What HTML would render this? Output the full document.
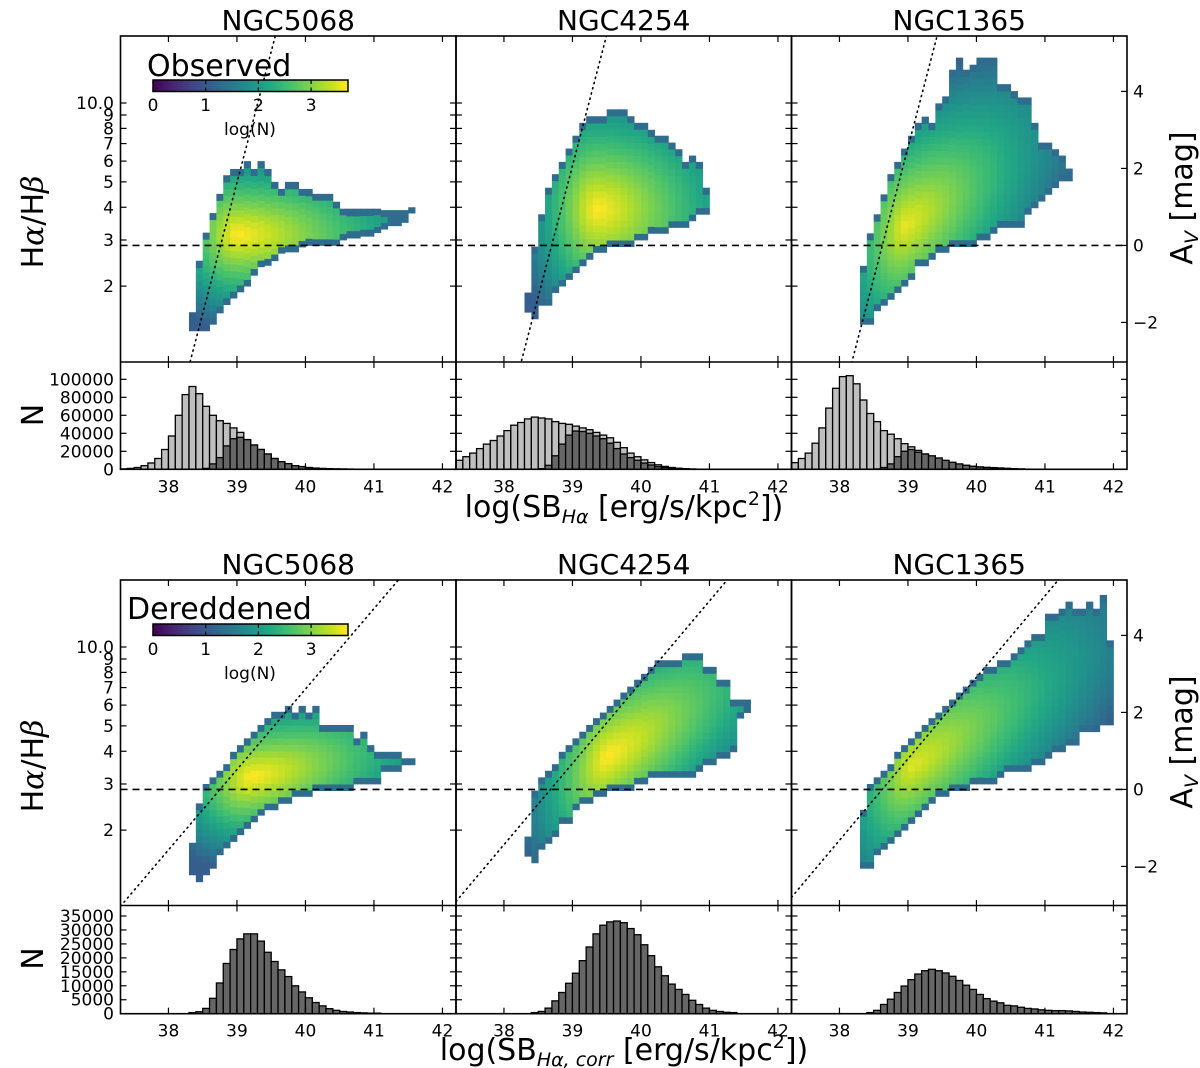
<!DOCTYPE html>
<html><head><meta charset="utf-8">
<style>
html,body{margin:0;padding:0;background:#fff;}
svg{display:block;font-family:"DejaVu Sans","Liberation Sans",sans-serif;}
</style></head>
<body>
<svg id="fig" width="1200" height="1068" viewBox="0 0 1200 1068" xmlns="http://www.w3.org/2000/svg"></svg>
<script>
// ---------------- DATA ----------------
const galaxies = ["NGC5068","NGC4254","NGC1365"];
const xTicks = [38,39,40,41,42];
const ratioTicks = [2,3,4,5,6,7,8,9,10];
const ratioTickLabels = ["2","3","4","5","6","7","8","9","10.0"];
const avTicks = [-2,0,2,4];
const avTickLabels = ["\u22122","0","2","4"];
const caseBRatio = 2.86;
const histTopTicks = [0,20000,40000,60000,80000,100000];
const histBotTicks = [0,5000,10000,15000,20000,25000,30000,35000];
const cbarTicks = [0,1,2,3];

// heatmap column bins (width 0.1 dex), start at 38.3
const binStart = 38.3;
const obs5068Hi = [1.59,2.5,3.2,3.8,4.5,5.3,5.6,5.6,6,5.6,6,5.6,5,4.7,5,5,4.7,4.7,4.5,4.5,4.5,4.2,3.95,3.95,3.95,3.95,3.95,3.95,3.9,3.9,3.9,3.9,4.0];
const obs5068Lo = [1.35,1.35,1.35,1.43,1.58,1.7,1.8,1.9,2.0,2.2,2.37,2.4,2.5,2.67,2.7,2.7,2.82,2.86,2.86,2.86,2.86,2.86,3.0,3.05,3.05,3.1,3.1,3.2,3.3,3.4,3.4,3.5,3.8];
const obs4254Hi = [1.89,2.83,3.76,4.75,5.35,5.96,6.7,7.5,8.4,8.9,8.9,8.9,9.46,9.46,9.46,8.9,8.4,8.4,7.9,7.5,7.5,7.06,6.66,5.96,6.3,5.96,4.75];
const obs4254Lo = [1.59,1.5,1.69,1.69,1.89,2.0,2.12,2.25,2.39,2.53,2.69,2.69,2.83,2.83,2.83,2.83,3.0,3.0,3.18,3.18,3.18,3.35,3.35,3.35,3.55,3.76,3.76];
const obs1365Hi = [2.39,3.18,3.76,4.48,5.35,5.96,6.7,7.5,8.4,8.87,8.4,9.97,10.6,13.4,14.9,13.4,14.0,14.9,14.9,14.9,11.8,11.8,11.1,10.5,10.5,8.4,7.06,7.06,6.66,6.3,5.62];
const obs1365Lo = [1.43,1.43,1.61,1.69,1.78,1.89,2.0,2.12,2.39,2.39,2.53,2.69,2.69,2.83,2.83,2.83,2.83,3.0,3.0,3.18,3.35,3.35,3.35,3.35,3.76,3.98,4.22,4.48,4.75,5.04,5.04];
const cor5068Hi = [1.79,2.53,3.0,3.18,3.37,3.57,3.98,4.22,4.48,4.75,5.04,5.35,5.66,5.66,5.96,5.62,5.96,5.62,5.96,5.04,5.04,5.04,5.04,5.04,4.48,4.75,4.22,3.98,3.98,3.98,3.98,3.76,3.76,3.55];
const cor5068Lo = [1.35,1.27,1.35,1.43,1.61,1.71,1.81,1.92,2.03,2.15,2.28,2.39,2.39,2.53,2.53,2.69,2.69,2.69,2.83,2.83,2.83,2.83,2.83,2.83,3.0,3.0,3.0,3.0,3.35,3.35,3.35,3.55,3.55,3.76];
const cor4254Hi = [1.89,2.83,3.18,3.37,3.57,3.98,4.22,4.48,4.75,5.04,5.35,5.62,5.96,6.3,6.7,7.06,7.5,7.9,8.4,8.9,8.9,8.9,8.9,9.46,9.46,9.46,8.4,8.4,7.5,7.5,6.3,6.3,6.3];
const cor4254Lo = [1.59,1.5,1.69,1.78,1.89,2.12,2.12,2.39,2.53,2.53,2.69,2.69,2.83,2.83,2.83,2.83,3.0,3.0,3.18,3.18,3.18,3.18,3.18,3.18,3.18,3.35,3.55,3.55,3.76,3.76,3.98,5.35,5.62];
const cor1365Hi = [2.39,3.0,3.18,3.37,3.57,3.98,4.22,4.48,4.75,5.04,5.35,5.62,5.96,6.3,6.7,7.06,7.5,7.9,8.4,8.4,8.9,8.9,9.46,9.97,10.6,11.2,11.2,13.4,13.4,14.0,14.9,14.0,14.0,14.9,14.0,15.8,10.6];
const cor1365Lo = [1.43,1.43,1.61,1.69,1.78,1.89,2.0,2.12,2.25,2.39,2.53,2.69,2.69,2.83,2.83,2.83,3.0,3.0,3.0,3.0,3.18,3.35,3.35,3.35,3.35,3.55,3.55,3.76,3.98,3.98,4.22,4.22,4.75,4.75,4.75,5.04,5.04];
// density peak (logSB, ratio) per panel
const peakSB = [39.0,39.35,38.95,39.2,39.5,39.05];
const peakRatio = [3.15,3.93,3.4,3.2,3.81,3.5];

// dotted surface-brightness limit lines: log(ratio) = slope*(x - x0)
const limX0 = [38.304,38.24,38.17,37.266,37.208,37.157];
const limSlope = [1.0,1.0,1.0,0.307,0.31,0.311];

// histograms (counts in thousands), bins 0.1 dex
const obsAllStart = [37.3,37.3,37.3];
const obsAll5068 = [0.5,1,2,4,7,12,22,37,60,83,92,84,70,60,54,51,46,41,33,27,22,17,12,8.5,6.3,4,3,2,1.4,1,0.7,0.5,0.4,0.3];
const obsAll4254 = [10,14,18,23,28,32,37,43,49,52,56,58,57,56,53,51,50,48,46,44,41,38,35,30,24,18,14,10.5,7.5,5,3.2,2,1.2,0.7,0.4];
const obsAll1365 = [7.4,12,18,29,46,68,90,103,104,95,77,62,53,43,39,34,28.5,25,21,17,14,11,8.5,7,5.5,4.4,3.3,2.6,2.2,1.9,1.5,1.1,0.7,0.4];
const obsDetStart = [38.5,38.5,38.5];
const obsDet5068 = [1,6,13,26,34,35.5,33,27,22,17,12,8.5,6.3,4,3,1.8,1.1,0.6,0.4,0.3,0.2];
const obsDet4254 = [0.7,4.4,15,28,38,42.5,42,40,37,34,29,23,17,13,10,7,4.8,3,1.9,1.1,0.7,0.4];
const obsDet1365 = [0.4,2,6,14,20,22,19,17,15,12.6,10,7.8,6,4.4,3.3,2.6,1.9,1.5,1.1,0.7,0.4,0.3,0.2];
const corStart = [38.3,38.4,38.4];
const cor5068 = [0.4,0.7,1.9,5.5,11,18,23,26.8,28.6,28.6,26,22,18.7,15.7,13.3,10,7.8,5.7,4,2.8,1.8,1.2,0.8,0.6,0.4,0.3,0.2,0.2];
const cor4254 = [0.4,0.8,2,4.6,7.6,10.9,14.5,19,23.9,28.6,31.7,32.9,33.2,32.6,30.5,28.3,24.7,20.8,16.8,13.6,10.6,8.7,6.9,4.8,3.3,2,1.2,0.8,0.5,0.4];
const cor1365 = [0.4,1.2,3.3,5.2,7.6,9.9,12.2,14.2,15.4,15.9,15.4,14.6,13.4,11.9,10.2,8.7,6.9,5.4,4.5,3.9,3,2.8,2.3,1.9,1.7,1.4,1.2,1.1,1.1,1,0.8,0.6,0.5,0.4,0.3];

// ---------------- LAYOUT ----------------
const NS = "http://www.w3.org/2000/svg";
const svg = document.getElementById("fig");
const colLeft = [120.5,456,791.5];
const colW = 335.5;
const xMin = 37.3, pxPerDex = 68.5;
const groupTop = [36,580];
const heatH = 326;
const histTop = [362,905.5];
const histBot = [469.3,1013.7];
const histScale = [0.0009, 97.7/35000];
const logTop = 1.2557, pxPerDecade = 262;

function X(v,c){ return colLeft[c] + (v - xMin)*pxPerDex; }
function Y(r,g){ return groupTop[g] + (logTop - Math.log10(r))*pxPerDecade; }
function YL(lr,g){ return groupTop[g] + (logTop - lr)*pxPerDecade; }
function YH(n,g){ return histBot[g] - n*histScale[g]; }
function YAV(a,g){ return Y(caseBRatio,g) - a*38.5; }

function mk(tag, attrs, parent){
  const e = document.createElementNS(NS, tag);
  for (const k in attrs) e.setAttribute(k, attrs[k]);
  (parent||svg).appendChild(e);
  return e;
}
function txt(str, x, y, size, anchor, parent){
  const t = mk("text", {x:x, y:y, "font-size":size, "text-anchor":anchor||"middle", fill:"#000"}, parent);
  t.textContent = str;
  return t;
}

const vir = ["#440154","#482475","#414487","#355f8d","#2a788e","#21918c","#22a884","#44bf70","#7ad151","#bddf26","#fde725"];
function hex2rgb(h){ return [parseInt(h.substr(1,2),16),parseInt(h.substr(3,2),16),parseInt(h.substr(5,2),16)]; }
function viridis(t){
  t = Math.max(0, Math.min(1, t));
  const p = t*10, i = Math.min(9, Math.floor(p)), f = p - i;
  const a = hex2rgb(vir[i]), b = hex2rgb(vir[i+1]);
  return "rgb(" + a.map((v,k)=>Math.round(v + (b[k]-v)*f)).join(",") + ")";
}

// clip paths
const defs = mk("defs", {});
for (let g=0; g<2; g++) for (let c=0; c<3; c++){
  const cp = mk("clipPath", {id:"clip"+g+c}, defs);
  mk("rect", {x:colLeft[c], y:groupTop[g], width:colW, height:heatH}, cp);
}

const hiArr = [obs5068Hi,obs4254Hi,obs1365Hi,cor5068Hi,cor4254Hi,cor1365Hi];
const loArr = [obs5068Lo,obs4254Lo,obs1365Lo,cor5068Lo,cor4254Lo,cor1365Lo];
const sxR = [1.3,1.0,1.1,1.3,1.3,1.5], sxL = [0.45,0.45,0.45,0.5,0.5,0.5];
const sy = [0.14,0.2,0.22,0.13,0.18,0.2];
const tilt = [0,0,0.15,0.05,0.15,0.16];
const vmax = [3.75,3.75,3.6,3.75,3.75,3.55];
const cbarMax = 3.7;

// ---------------- HEATMAPS ----------------
for (let g=0; g<2; g++){
  for (let c=0; c<3; c++){
    const p = g*3 + c;
    const grp = mk("g", {"clip-path":"url(#clip"+g+c+")"});
    
    
    const hi = hiArr[p], lo = loArr[p];
    for (let i=0; i<hi.length; i++){
      const x0 = binStart + i*0.1;
      const l0 = Math.log10(lo[i]), l1 = Math.log10(hi[i]);
      const n = Math.max(1, Math.round((l1-l0)/0.0255));
      const dh = (l1-l0)/n;
      for (let j=0; j<n; j++){
        const la = l0 + j*dh, lb = la + dh;
        const dx = (x0 + 0.05) - peakSB[p];
        const dy = (la + dh/2) - Math.log10(peakRatio[p]) - tilt[p]*dx;
        const sx = dx > 0 ? sxR[p] : sxL[p];
        let v = vmax[p] - 1.0*Math.sqrt((dx/sx)*(dx/sx) + (dy/sy[p])*(dy/sy[p]));
        v = Math.max(1.1, v);
        if (j===0 || j===n-1) v = Math.min(v, 1.3);
        const r = mk("rect", {x:X(x0,c).toFixed(2), y:YL(lb,g).toFixed(2),
          width:(0.1*pxPerDex+0.4).toFixed(2), height:(dh*pxPerDecade+0.4).toFixed(2),
          fill:viridis(v/cbarMax)}, grp);
        
        
      }
    }
    const yb = Y(caseBRatio,g);
    const dl = mk("line", {x1:colLeft[c], x2:colLeft[c]+colW, y1:yb, y2:yb, stroke:"#000", "stroke-width":1.6, "stroke-dasharray":"7,5"}, grp);
    
    
    const xa = xMin, xb = 42.2;
    const dt = mk("line", {x1:X(xa,c), y1:YL(limSlope[p]*(xa-limX0[p]),g), x2:X(xb,c), y2:YL(limSlope[p]*(xb-limX0[p]),g),
      stroke:"#000", "stroke-width":1.6, "stroke-dasharray":"1.2,4.2", "stroke-linecap":"round"}, grp);
    
    
  }
}

// ---------------- HISTOGRAMS ----------------
const allArr = [obsAll5068,obsAll4254,obsAll1365];
const detArr = [obsDet5068,obsDet4254,obsDet1365];
const corArr = [cor5068,cor4254,cor1365];
function bars(vals, start, c, g, fill, name){
  const grp = mk("g", {});
  
  
  for (let i=0; i<vals.length; i++){
    const x0 = start + i*0.1;
    if (x0 >= 42.2) break;
    const yt = YH(vals[i]*1000, g);
    const b = mk("rect", {x:X(x0,c).toFixed(2), y:yt.toFixed(2), width:(0.1*pxPerDex).toFixed(2),
      height:Math.max(0, histBot[g]-yt).toFixed(2), fill:fill, stroke:"#000", "stroke-width":1.3}, grp);
    
    
  }
}
for (let c=0; c<3; c++){
  bars(allArr[c], obsAllStart[c], c, 0, "#bfbfbf", "hist-all-" + galaxies[c].toLowerCase());
  bars(detArr[c], obsDetStart[c], c, 0, "#666666", "hist-detected-" + galaxies[c].toLowerCase());
  bars(corArr[c], corStart[c], c, 1, "#666666", "hist-dereddened-" + galaxies[c].toLowerCase());
}

// ---------------- FRAMES, TICKS ----------------
function tick(x1,y1,x2,y2){ mk("line",{x1:x1,y1:y1,x2:x2,y2:y2,stroke:"#000","stroke-width":1.2}); }
for (let g=0; g<2; g++){
  for (let c=0; c<3; c++){
    const L = colLeft[c], R = L + colW, T = groupTop[g], B = T + heatH;
    xTicks.forEach(v=>{
      const x = X(v,c);
      tick(x,T,x,T+6); tick(x,B,x,B-6);
      tick(x,histTop[g],x,histTop[g]+6); tick(x,histBot[g],x,histBot[g]-6);
    });
    ratioTicks.forEach(r=>{
      const y = Y(r,g);
      tick(L,y,L+6,y);
      if (c<2) tick(R,y,R-6,y);
    });
    if (c===2) avTicks.forEach(a=>{ const y=YAV(a,g); tick(R,y,R-6,y); });
    const ht = g===0 ? histTopTicks : histBotTicks;
    ht.forEach(n=>{ const y=YH(n,g); tick(L,y,L+6,y); tick(R,y,R-6,y); });
    const fr = mk("rect",{x:L,y:T,width:colW,height:histBot[g]-T,fill:"none",stroke:"#000","stroke-width":1.6});
    
    
    mk("line",{x1:L,x2:R,y1:histTop[g],y2:histTop[g],stroke:"#000","stroke-width":1.6});
    const tt = txt(galaxies[c], L+colW/2, g===0?30:574, 28);
    
    
    xTicks.forEach(v=>{
      const lt = txt(String(v), X(v,c), histBot[g]+23, 17);
      
      
    });
  }
  ratioTicks.forEach((r,i)=>{
    const lt = txt(ratioTickLabels[i], 114, Y(r,g)+6, 17, "end");
    
    
  });
  const ht = g===0 ? histTopTicks : histBotTicks;
  ht.forEach(n=>{
    const lt = txt(String(n), 114, YH(n,g)+6, 17, "end");
    
    
  });
  avTicks.forEach((a,i)=>{
    const lt = txt(avTickLabels[i], 1133, YAV(a,g)+6, 17, "start");
    
    
  });

  const yc = groupTop[g] + 186;
  const yl = mk("text",{x:0,y:0,"font-size":30,"text-anchor":"middle",transform:"translate(43,"+yc+") rotate(-90)"});
  
  
  yl.innerHTML = 'H<tspan font-style="italic" font-family="DejaVu Serif, serif">α</tspan>/H<tspan font-style="italic" font-family="DejaVu Serif, serif">β</tspan>';
  const nl = mk("text",{x:0,y:0,"font-size":30,"text-anchor":"middle",transform:"translate(43,"+(histTop[g]+53)+") rotate(-90)"});
  
  
  nl.textContent = "N";
  const av = mk("text",{x:0,y:0,"font-size":30,"text-anchor":"middle",transform:"translate(1192,"+(groupTop[g]+162)+") rotate(-90)"});
  
  
  av.innerHTML = 'A<tspan font-size="19" dy="6" font-style="italic">V</tspan><tspan dy="-6"> [mag]</tspan>';
  const xl = mk("text",{x:624,y:g===0?517:1060,"font-size":30,"text-anchor":"middle"});
  
  
  xl.innerHTML = g===0
    ? 'log(SB<tspan font-size="19" dy="6" font-style="italic">Hα</tspan><tspan dy="-6"> [erg/s/kpc</tspan><tspan font-size="19" dy="-12">2</tspan><tspan dy="12">])</tspan>'
    : 'log(SB<tspan font-size="19" dy="6" font-style="italic">Hα, corr</tspan><tspan dy="-6"> [erg/s/kpc</tspan><tspan font-size="19" dy="-12">2</tspan><tspan dy="12">])</tspan>';

  const lab = txt(g===0?"Observed":"Dereddened", g===0?147:127, g===0?76:619, 30, "start");
  
  
  const cy = g===0 ? 80 : 624;
  const gid = "cbg"+g;
  const lg = mk("linearGradient",{id:gid,x1:0,x2:1,y1:0,y2:0},defs);
  vir.forEach((col,i)=>mk("stop",{offset:(i/10),"stop-color":col},lg));
  const cb = mk("rect",{x:153,y:cy,width:195,height:11.5,fill:"url(#"+gid+")",stroke:"#000","stroke-width":1.5});
  
  
  cbarTicks.forEach(v=>{
    const x = 153 + v/cbarMax*195;
    tick(x,cy+11.5,x,cy+7.5); tick(x,cy,x,cy+4);
    const ct = txt(String(v), x, cy+31, 17);
    
    
  });
  const cl = txt("log(N)", 250, cy+55, 17);
  
  
}
</script>
</body></html>
